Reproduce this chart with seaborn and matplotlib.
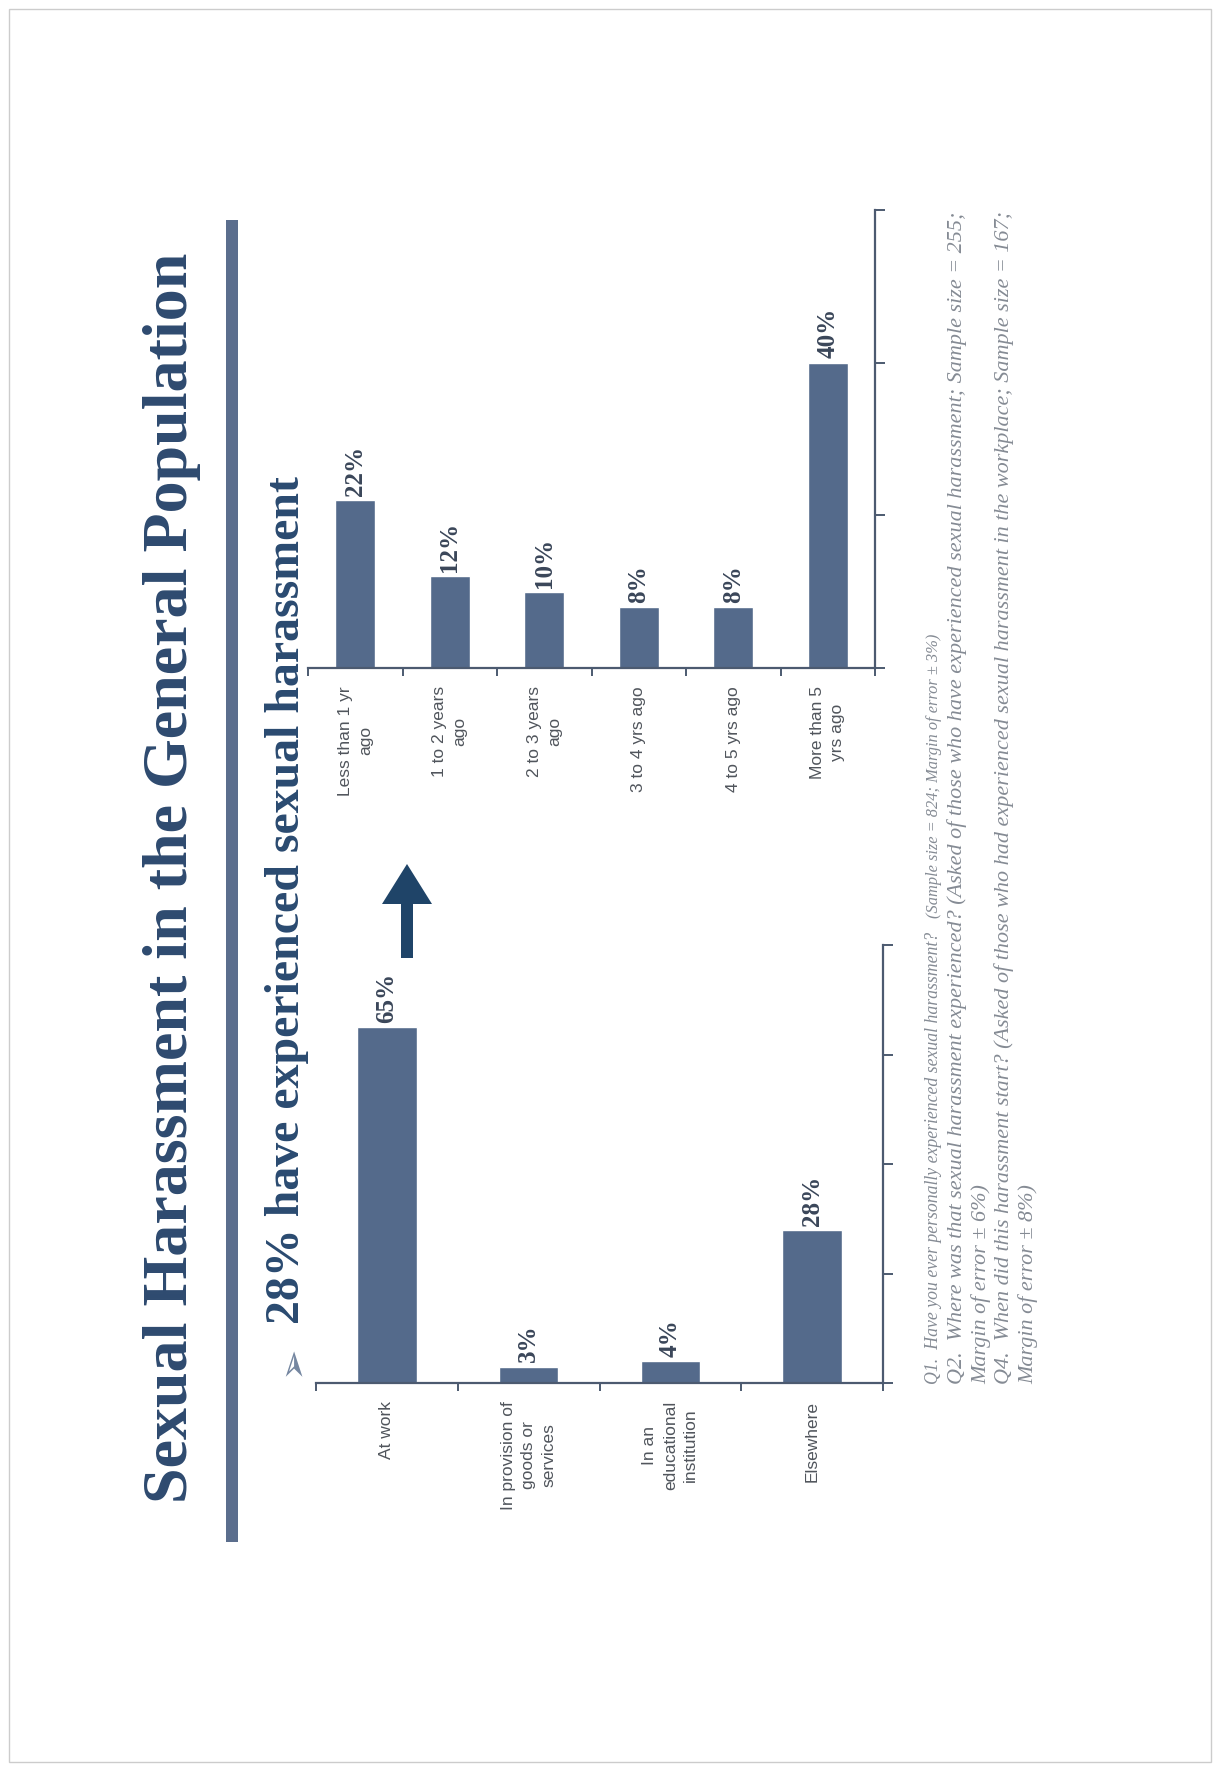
import matplotlib
matplotlib.use("Agg")
import matplotlib.pyplot as plt
import seaborn as sns
import pandas as pd
from matplotlib.patches import FancyArrow, Rectangle

# ---------------- data ----------------
place_cats = ["At work", "In provision of\ngoods or\nservices",
              "In an\neducational\ninstitution", "Elsewhere"]
place_vals = [65, 3, 4, 28]
place_ticks = [0, 20, 40, 60, 80]

when_cats = ["Less than 1 yr\nago", "1 to 2 years\nago", "2 to 3 years\nago",
             "3 to 4 yrs ago", "4 to 5 yrs ago", "More than 5\nyrs ago"]
when_vals = [22, 12, 10, 8, 8, 40]
when_ticks = [0, 20, 40, 60]

title = "Sexual Harassment in the General Population"
subtitle = "28% have experienced sexual harassment"
note1_main = "Q1.  Have you ever personally experienced sexual harassment?"
note1_tail = "(Sample size = 824; Margin of error \u00b1 3%)"
notes = [
    "Q2.  Where was that sexual harassment experienced? (Asked of those who have experienced sexual harassment; Sample size = 255;",
    "Margin of error \u00b1 6%)",
    "Q4.  When did this harassment start? (Asked of those who had experienced sexual harassment in the workplace; Sample size = 167;",
    "Margin of error \u00b1 8%)",
]

# ---------------- style ----------------
W, H = 1220, 1771
BAR = "#546a8b"
AXC = "#4c5a70"
LAB = "#50555c"
VAL = "#3a4659"
TITLE_C = "#2e4a6f"
SUB_C = "#2a4a70"
NOTE_C = "#858b94"
ARROW_C = "#1f4468"
SERIF = ['Liberation Serif', 'DejaVu Serif']

sns.set_theme(style="white")
plt.rcParams['font.family'] = ['Liberation Sans', 'DejaVu Sans']

fig = plt.figure(figsize=(12.2, 17.71), dpi=100)
fig.patch.set_facecolor("white")
renderer = fig.canvas.get_renderer()


def fx(px):
    return px / W


def fy(py):
    return 1 - py / H


def make_axes(x0, x1, ytop, ybase):
    return fig.add_axes([fx(x0), fy(ybase), (x1 - x0) / W, (ybase - ytop) / H])


def draw(ax, cats, vals, ticks):
    df = pd.DataFrame({"cat": cats, "val": vals})
    sns.barplot(data=df, x="cat", y="val", ax=ax, color=BAR, saturation=1,
                width=0.42, order=cats)
    n = len(cats)
    ax.set_xlim(-0.5, n - 0.5)
    ax.set_ylim(ticks[0], ticks[-1])
    ax.set_yticks(ticks)
    ax.yaxis.tick_right()
    ax.tick_params(axis='y', which='major', direction='out', length=7, width=1.4,
                   color=AXC, labelright=False, right=True, left=False)
    ax.set_xticks(range(n))
    ax.set_xticklabels(cats, rotation=90, fontsize=12.5, color=LAB,
                       linespacing=1.45, multialignment='center')
    ax.set_xticks([i - 0.5 for i in range(n + 1)], minor=True)
    ax.tick_params(axis='x', which='major', length=0, pad=13)
    ax.tick_params(axis='x', which='minor', length=6, width=1.4, color=AXC,
                   direction='out', bottom=True)
    for s in ['top', 'left']:
        ax.spines[s].set_visible(False)
    for s in ['bottom', 'right']:
        ax.spines[s].set_color(AXC)
        ax.spines[s].set_linewidth(1.6)
    ax.set_xlabel("")
    ax.set_ylabel("")
    ax.patch.set_alpha(0)
    ax.bar_label(ax.containers[0], labels=[f"{v}%" for v in vals], rotation=90,
                 padding=3, fontsize=18, fontweight='bold', family=SERIF, color=VAL)


ax1 = make_axes(316, 883, 945, 1383)
draw(ax1, place_cats, place_vals, place_ticks)

ax2 = make_axes(308, 875, 210, 668)
draw(ax2, when_cats, when_vals, when_ticks)


def fit_size(t, target):
    bb = t.get_window_extent(renderer)
    t.set_fontsize(t.get_fontsize() * target / bb.height)


# title
t_title = fig.text(fx(172), fy((1502 + 254) / 2), title, rotation=90, ha='center',
                   va='center', fontsize=40, fontweight='bold', family=SERIF,
                   color=TITLE_C)
fit_size(t_title, 1502 - 254)

# title rule
fig.add_artist(Rectangle((fx(226), fy(1542)), 12 / W, (1542 - 220) / H,
                         transform=fig.transFigure, color="#5b6e8d", lw=0))

# subtitle with bullet
t_sub = fig.text(fx(287), fy(1324), subtitle, rotation=90, ha='center', va='bottom',
                 fontsize=28, fontweight='bold', family=SERIF, color=SUB_C)
fit_size(t_sub, 1324 - 474)
fig.text(fx(292), fy(1360), "\u27a2", rotation=90, ha='center', va='center',
         fontsize=27, family=['DejaVu Sans'], color="#7486a0")

# big arrow
fig.add_artist(FancyArrow(fx(407), fy(958), 0, (958 - 864) / H, width=12 / W,
                          head_width=50 / W, head_length=40 / H,
                          length_includes_head=True, transform=fig.transFigure,
                          color=ARROW_C, lw=0))

# footnotes
note_x = [934, 957.5, 981, 1004.5, 1028]
note_texts = []
for xx, s in zip(note_x[1:], notes):
    t = fig.text(fx(xx), fy(1384), s, rotation=90, ha='center', va='bottom',
                 fontsize=15, fontstyle='italic', family=SERIF, color=NOTE_C)
    note_texts.append(t)
bb = note_texts[0].get_window_extent(renderer)
size = note_texts[0].get_fontsize() * (1384 - 209) / bb.height
for t in note_texts:
    t.set_fontsize(size)

t1 = fig.text(fx(note_x[0]), fy(1384), note1_main, rotation=90, ha='center',
              va='bottom', fontsize=size * 0.8, fontstyle='italic', family=SERIF,
              color=NOTE_C)
bb1 = t1.get_window_extent(renderer)
tail_start = H - bb1.y1 - 14
fig.text(fx(note_x[0]), fy(tail_start), note1_tail, rotation=90, ha='center',
         va='bottom', fontsize=size * 0.74, fontstyle='italic', family=SERIF,
         color=NOTE_C)

# slide border
fig.add_artist(Rectangle((fx(9), fy(1762)), (1211 - 9) / W, (1762 - 9) / H,
                         transform=fig.transFigure, fill=False,
                         edgecolor="#cccccc", lw=1))

fig.savefig("out.png", dpi=100)
